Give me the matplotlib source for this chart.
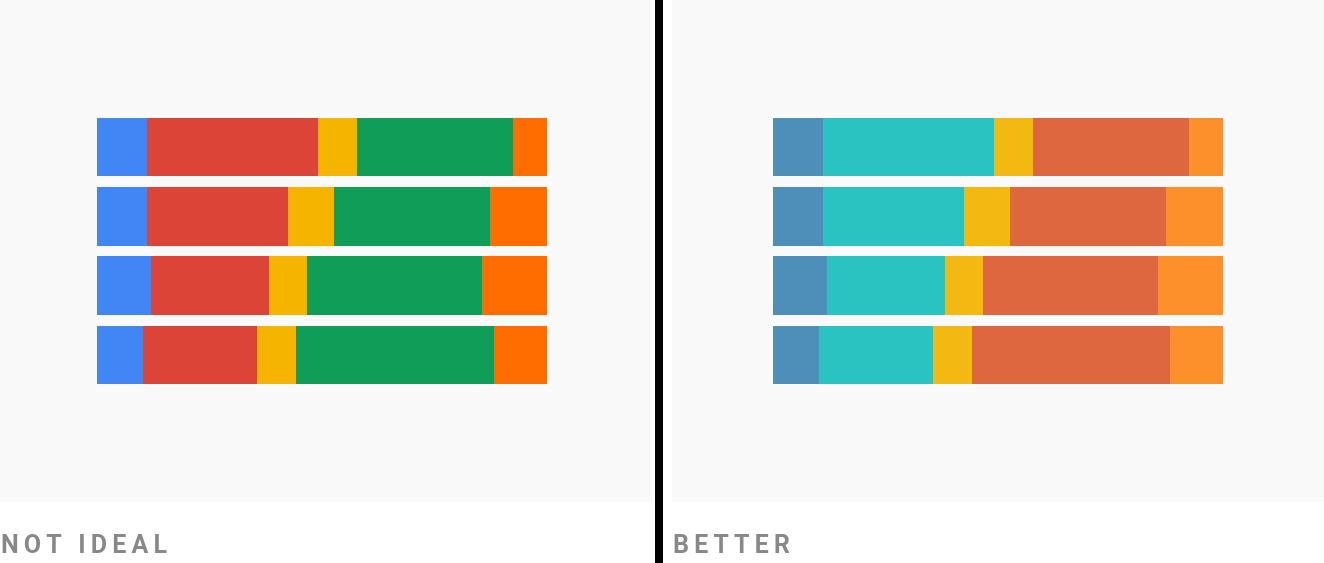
import matplotlib
matplotlib.use("Agg")
import matplotlib.pyplot as plt
from matplotlib.patches import Rectangle
import numpy as np

# four stacked rows, five segments each (share of the row, in %)
rows = ["A", "B", "C", "D"]
seg1 = [11.1, 11.1, 12.0, 10.2]
seg2 = [38.0, 31.3, 26.2, 25.3]
seg3 = [8.6, 10.2, 8.4, 8.7]
seg4 = [34.6, 34.6, 39.0, 44.0]
seg5 = [7.7, 12.8, 14.4, 11.8]
segments = [seg1, seg2, seg3, seg4, seg5]

colors_bad = ["#4285F4", "#DB4437", "#F4B400", "#0F9D58", "#FF6D00"]
colors_good = ["#4E8FB9", "#2BC3C1", "#F4B813", "#DF673F", "#FE902C"]

W, H = 1324, 563
fig = plt.figure(figsize=(W / 100, H / 100), dpi=100)
fig.patch.set_facecolor("white")

PANEL_W = 652
PANEL_H = 502
PX_PER_PCT = 4.503


def draw_panel(left_px, bar_start_px, colors):
    ax = fig.add_axes([left_px / W, (H - PANEL_H) / H, PANEL_W / W, PANEL_H / H])
    ax.set_facecolor("#f9f9f9")
    y = np.arange(len(rows))
    left = np.zeros(len(rows))
    for vals, c in zip(segments, colors):
        ax.barh(y, vals, left=left, height=0.843, color=c, linewidth=0)
        left += np.array(vals)
    ax.set_xlim(-bar_start_px / PX_PER_PCT, (PANEL_W - bar_start_px) / PX_PER_PCT)
    ax.set_ylim(5.127, -2.127)
    ax.axis("off")
    ax.add_patch(Rectangle((0, 0), 1, 1, transform=ax.transAxes,
                           facecolor="#f9f9f9", zorder=-1))
    return ax


draw_panel(0, 97, colors_bad)
draw_panel(672, 101, colors_good)

# black divider
fig.add_artist(Rectangle((655.3 / W, 0), 8 / W, 1, transform=fig.transFigure,
                         facecolor="black", edgecolor="none"))

sp = "\u2009"
fig.text(1 / W, 1 - 553 / H, sp.join("NOT IDEAL"), fontsize=18, color="#888888",
         family=["Roboto", "DejaVu Sans"], fontweight="semibold", va="baseline")
fig.text(673 / W, 1 - 553 / H, sp.join("BETTER"), fontsize=18, color="#888888",
         family=["Roboto", "DejaVu Sans"], fontweight="semibold", va="baseline")

fig.savefig("out.png", dpi=100)
